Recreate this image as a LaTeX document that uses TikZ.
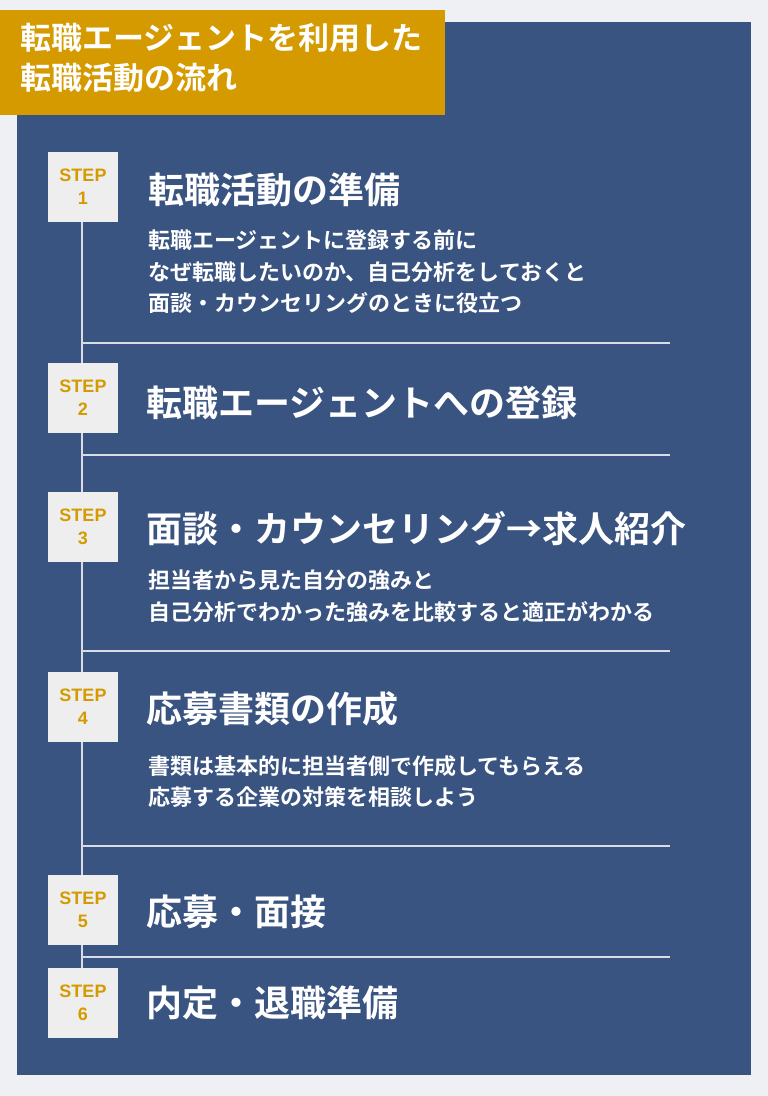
\documentclass[tikz,border=0pt]{standalone}
\usepackage{fontspec}
\newfontfamily\jp[BoldFont={Noto Sans CJK JP Bold}]{Noto Sans CJK JP}
\newfontfamily\stepf[BoldFont={Liberation Sans Bold}]{Liberation Sans}
\definecolor{bg}{HTML}{EEF0F4}
\definecolor{panel}{HTML}{3A5482}
\definecolor{gold}{HTML}{D49A00}
\definecolor{boxc}{HTML}{EEEEEE}
\definecolor{linec}{HTML}{D8DCE4}
\tikzset{
 stepbox/.style={fill=boxc,minimum width=70pt,minimum height=70pt,inner sep=0,align=center,font=\stepf\bfseries\fontsize{18}{23}\selectfont,text=gold},
 head/.style={anchor=west,text=white,font=\jp\bfseries\fontsize{36}{40}\selectfont,inner sep=0},
 body/.style={anchor=north west,text=white,font=\jp\bfseries\fontsize{22}{31.5}\selectfont,inner sep=0,align=left},
 sep/.style={draw=linec,line width=1.5pt}
}
\begin{document}
\begin{tikzpicture}[x=1pt,y=-1pt]
\useasboundingbox (0,0) rectangle (768,1096);
\fill[bg] (0,0) rectangle (768,1096);
\fill[panel] (17,22) rectangle (751,1075);
\fill[gold] (0,10) rectangle (445,115);
\node[anchor=north west,text=white,font=\jp\bfseries\fontsize{31}{40}\selectfont,align=left,inner sep=0] (title) at (20,23) {転職エージェントを利用した\\転職活動の流れ};
\coordinate (top) at (82,222);
\coordinate (bot) at (82,968);
\draw[sep] (top) -- (bot);
\foreach \y [count=\i] in {343,455,651,846,957}{
 \coordinate (l\i) at (82,\y); \coordinate (r\i) at (670,\y);
 \draw[sep] (l\i) -- (r\i);}
\foreach \y/\n in {187/1,398/2,527/3,707/4,910/5,1003/6}{
 \node[stepbox] (s\n) at (83,\y) {STEP\\\n};}
\node[head] (h1) at (148,190) {転職活動の準備};
\node[head] (h2) at (146,403) {転職エージェントへの登録};
\node[head] (h3) at (146,529) {面談・カウンセリング→求人紹介};
\node[head] (h4) at (146,709) {応募書類の作成};
\node[head] (h5) at (146,912) {応募・面接};
\node[head] (h6) at (146,1003) {内定・退職準備};
\node[body] (b1) at (148,230) {転職エージェントに登録する前に\\なぜ転職したいのか、自己分析をしておくと\\面談・カウンセリングのときに役立つ};
\node[body] (b3) at (148,570) {担当者から見た自分の強みと\\自己分析でわかった強みを比較すると適正がわかる};
\node[body] (b4) at (148,755) {書類は基本的に担当者側で作成してもらえる\\応募する企業の対策を相談しよう};
\end{tikzpicture}
\end{document}
